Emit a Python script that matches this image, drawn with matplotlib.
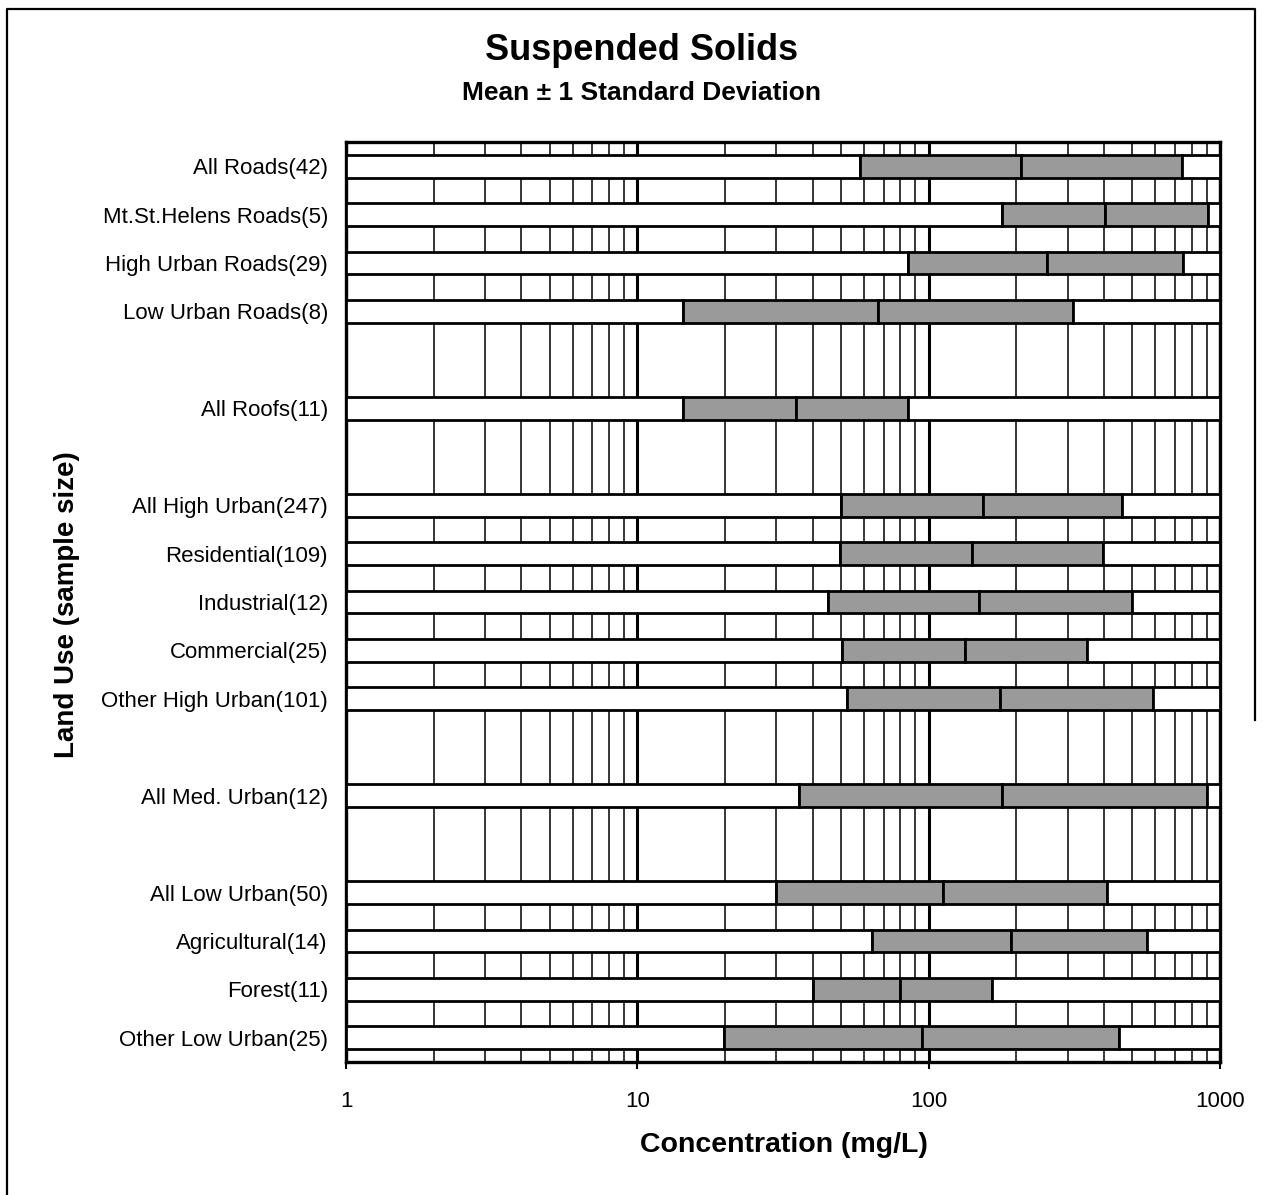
import numpy as np
import matplotlib.pyplot as plt
from matplotlib.lines import Line2D

plt.rcParams['font.family'] = ['Liberation Sans', 'DejaVu Sans']

# land use categories, '' marks an empty row between groups
categories = ['All Roads(42)', 'Mt.St.Helens Roads(5)', 'High Urban Roads(29)',
              'Low Urban Roads(8)', '', 'All Roofs(11)', '',
              'All High Urban(247)', 'Residential(109)', 'Industrial(12)',
              'Commercial(25)', 'Other High Urban(101)', '',
              'All Med. Urban(12)', '', 'All Low Urban(50)', 'Agricultural(14)',
              'Forest(11)', 'Other Low Urban(25)']

# mean - 1 SD, mean, mean + 1 SD  (mg/L)
low = [58, 178, 85, 14.3, None, 14.4, None,
       50, 49.6, 45.3, 50.3, 52.4, None,
       36, None, 30, 64, 40, 19.8]
mean = [207, 403, 254, 67, None, 35, None,
        154, 141, 149, 133, 176, None,
        179, None, 112, 191, 80, 95]
high = [739, 908, 749, 313, None, 85, None,
        460, 396, 498, 349, 588, None,
        902, None, 411, 562, 165, 451]

x_min, x_max = 1, 1000
gray = '#9a9a9a'

fig = plt.figure(figsize=(12.63, 11.95), dpi=100)
ax = fig.add_axes([346/1263, 1 - 1062/1195, (1220 - 346)/1263, (1062 - 142)/1195])

for i, name in enumerate(categories):
    if low[i] is None:
        continue
    edges = [x_min, low[i], mean[i], high[i], x_max]
    colors = ['white', gray, gray, 'white']
    for a, b, c in zip(edges[:-1], edges[1:], colors):
        ax.barh(i, b - a, left=a, height=0.47, color=c,
                edgecolor='black', linewidth=2, zorder=3)

ax.set_xscale('log')
ax.set_xlim(x_min, x_max)
ax.set_ylim(len(categories) - 0.5, -0.5)
ax.set_yticks(np.arange(len(categories)))
ax.set_yticklabels(categories, fontsize=16)
ax.tick_params(axis='y', length=0, pad=13)

ax.set_xticks([1, 10, 100, 1000])
ax.set_xticklabels(['1', '10', '100', '1000'], fontsize=16)
ax.tick_params(axis='x', which='major', length=5, width=1.5, direction='out', pad=16)
ax.tick_params(axis='x', which='minor', length=0)

ax.set_axisbelow(True)
ax.grid(which='major', axis='x', color='black', linewidth=2.2)
ax.grid(which='minor', axis='x', color='black', linewidth=1.1)
ax.grid(which='both', axis='y', visible=False)
for s in ax.spines.values():
    s.set_linewidth(2.4)

fig.text(0.508, 1 - 50/1195, 'Suspended Solids', ha='center', va='center',
         fontsize=26, fontweight='bold')
fig.text(0.508, 1 - 93/1195, 'Mean \u00b1 1 Standard Deviation', ha='center', va='center',
         fontsize=19, fontweight='bold')
fig.text(784/1263, 1 - 1145/1195, 'Concentration (mg/L)', ha='center', va='center',
         fontsize=20.5, fontweight='bold')
fig.text(67/1263, 1 - 605/1195, 'Land Use (sample size)', ha='center', va='center',
         rotation=90, fontsize=20, fontweight='bold')

# page border
fig.add_artist(Line2D([7/1263, 7/1263, 1255/1263, 1255/1263],
                      [0, 1 - 9/1195, 1 - 9/1195, 1 - 720/1195],
                      transform=fig.transFigure, color='black', linewidth=1.6))

fig.savefig('out.png', dpi=100)
